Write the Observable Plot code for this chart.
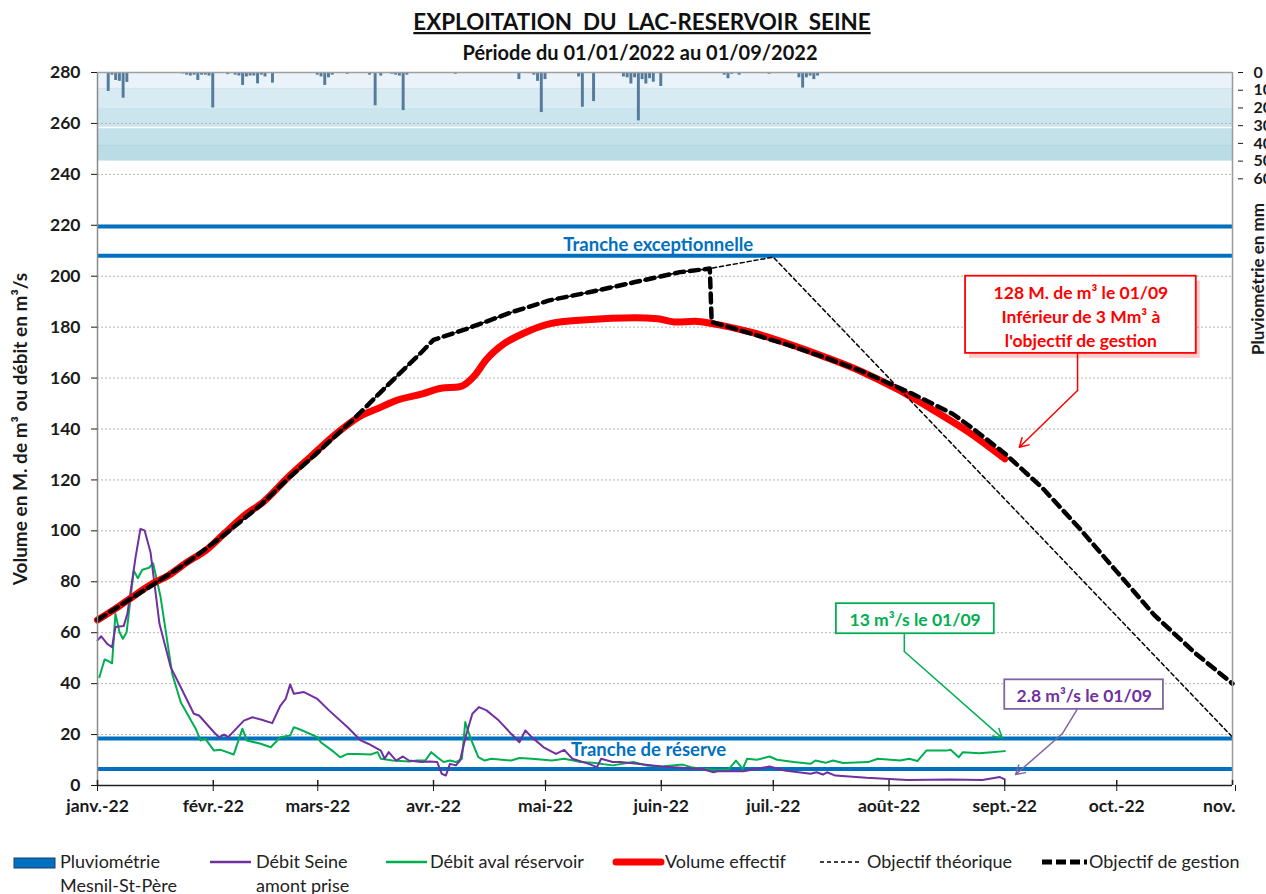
<!DOCTYPE html>
<html><head><meta charset="utf-8">
<script src="https://cdn.jsdelivr.net/npm/d3@7"></script>
<script src="https://cdn.jsdelivr.net/npm/@observablehq/plot@0.6"></script>
<style>
body{margin:0;background:#fff;font-family:Lato,sans-serif}
#wrap{position:relative;width:1266px;height:894px;overflow:hidden}
</style></head><body><div id="wrap"></div>
<script>
// ---------- DATA (day = days since 1 Jan 2022) ----------
const monthDays = [0,31,59,90,120,151,181,212,243,273];
const monthLabels = ["janv.-22","févr.-22","mars-22","avr.-22","mai-22","juin-22","juil.-22","août-22","sept.-22","oct.-22"];
const lastMonthDay = 304; const lastMonthLabel = "nov.";
const yTicks = [0,20,40,60,80,100,120,140,160,180,200,220,240,260,280];
const gridTicks = [20,40,60,80,100,120,140,160,180,200,220,240,260];
const rainTicks = [0,10,20,30,40,50,60];
const trancheLevels = [219.5, 208, 18.5, 6.5];
const rainBandEdges = [0,9,20,31,41,50];

const volumeEffectif = [[0,65],[4,68.7],[8,72.7],[15,79.5],[19,82.5],[24,87.7],[29,92.3],[34,99],[40,106.8],[44,110.8],[51,121],[57,129],[63,137],[65,139.4],[70,144.7],[75,148],[80,151.2],[87,153.8],[92,156],[97,156.6],[101,161],[104,167],[109,173.6],[114,177.5],[121,181.3],[131,182.9],[144,183.7],[150,183.3],[155,182],[160,182.3],[165,181.3],[175,178],[185,173.5],[195,168.2],[205,162.3],[214,155.8],[224,147.3],[234,138.1],[243,128.3]];

const objectifGestion = [[0,65],[8,72.5],[15,79],[24,87.5],[34,98.5],[44,110.5],[51,120.5],[58,129.5],[65,139],[68,143],[80,160.5],[86,169],[90,175],[99,179.4],[111,185.9],[121,190.5],[132,193.8],[144,197.7],[156,201.6],[164,203],[164.5,182],[175,177.5],[185,173],[195,168],[205,162.5],[218,154],[229,146],[234,140.7],[243,130.4],[253,117],[263,101],[273,84],[283,67],[294,52],[304,40]];

const objectifTheorique = [[0,65],[8,72.5],[15,79],[24,87.5],[34,98.5],[44,110.5],[51,120.5],[58,129.5],[65,139],[68,143],[80,160.5],[86,169],[90,175],[99,179.4],[111,185.9],[121,190.5],[132,193.8],[144,197.7],[156,201.6],[164,203],[181,207.5],[304,19]];

const debitSeineAmont = [[0,57],[1,58.6],[2.6,55.6],[3.9,54.3],[4.8,62.2],[7,62.6],[8,67.4],[10.2,89.7],[11.5,100.8],[12.6,100.2],[14.2,91.6],[16.6,63.5],[19.6,46.5],[22.3,38.6],[25.8,28.2],[27.2,27.5],[31.2,20.9],[32.5,19],[33.9,20],[35,19],[39.2,25.5],[41.5,26.8],[44,25.8],[46.8,24.5],[49,31.4],[50.4,34],[51.6,39.7],[52.6,36],[55.3,36.7],[58.9,34],[62,29.5],[67,22.9],[70.5,17.7],[72.5,16.4],[75.9,13.7],[76.9,10.5],[78,13.1],[80,9.8],[81.8,11.4],[83.4,9.8],[86.7,9.2],[88.9,9.4],[91,9.2],[92.2,4.6],[93.3,3.9],[94.4,8.5],[96,7.9],[97.1,9.8],[98.7,19.6],[100.4,28.2],[102.2,30.8],[104.2,29.5],[107.5,25.5],[110.8,20.3],[113,17],[114.6,21.6],[116.3,19],[119.5,15],[122.8,12.4],[125,14],[127.2,10.5],[131.6,8.5],[133.8,7.2],[134.9,10.5],[138,9.2],[140,9.2],[144.6,8.5],[151,7.5],[162,6.5],[165,5.2],[166,5.6],[173,5.6],[179,7.2],[180,7.5],[184,5.9],[191,4.6],[192.6,5.2],[194.3,4.3],[195.4,5.2],[197.6,3.9],[206,3],[217,2.2],[228.5,2.4],[237,2.2],[241.7,3.3],[243,2.4]];

const debitAvalReservoir = [[0.5,42.5],[1.9,49.5],[2.7,49],[3.9,48],[4.8,67.4],[5.9,60.2],[6.8,57.6],[7.8,60.2],[9.7,84.4],[10.8,81.4],[12,84.7],[13.8,85.5],[14.9,87.3],[16.9,74],[20,43.9],[22.3,32.7],[26.3,22.3],[27.6,17.7],[28.9,18.3],[31.2,13.7],[33,14],[36.5,12.2],[38.8,22.3],[40,17.7],[43.7,16.4],[46.4,15],[49,19],[51.6,19.6],[52.6,22.9],[54.4,21.9],[58.9,19],[59.8,17],[63.4,13.1],[65,11.1],[67,12.4],[69.6,12.4],[73.2,12.2],[75,13.1],[75.9,10.5],[79,9.8],[83.4,9.4],[85.6,9.8],[87.8,9.8],[89.4,13.1],[91,11.1],[92.7,9.2],[94.4,9.8],[96,9.2],[97.6,10.5],[98.5,24.9],[99.8,19],[102,11.1],[103.7,9.8],[105.5,10.5],[110.8,9.8],[113,10.8],[116.3,10.5],[121.7,9.8],[125,10.5],[129.4,9.2],[132.7,8.9],[138,7.9],[143.5,9.2],[147,7.9],[151,7.5],[156.7,8.2],[159,7.2],[162,6.5],[166,6.2],[169,6.2],[171,9.8],[172.8,6.5],[174,10.5],[176.6,10.1],[180,11.4],[182,10.1],[186.5,9.2],[191,8.5],[192.3,9.8],[195,8.9],[197,9.8],[199.7,8.8],[206.4,9.2],[209,10.5],[215,9.8],[217.4,10.5],[219.6,9.6],[222,13.7],[227.4,13.7],[228.5,14],[230.7,11.1],[231.8,13.1],[236.2,12.7],[239.5,13.1],[243,13.5]];

const pluviometrie = [[0,0.5],[3,10.7],[4,1.5],[5,4.5],[6,5],[7,14.5],[8,5.6],[23,0.8],[24,1.5],[25,2],[26,1.5],[27,4.5],[28,1.5],[29,1.5],[30,2],[31,20],[35,1.2],[37,1.5],[38,2],[39,7.3],[40,2.5],[41,2],[42,2],[43,6.4],[44,1.5],[45,2.5],[47,6],[59,1.5],[60,2.5],[61,7.3],[62,3],[63,1.5],[67,1],[73,1.5],[74.5,18.8],[76,2],[79,1],[80,1.5],[81,2],[82,21.5],[83,1.5],[96,1],[113,4],[117,1.5],[118,5],[119,22.6],[120,4],[129,2.5],[130,19.6],[133,16.4],[141,2.5],[142,3],[143,6.5],[144,3],[145,27.3],[146,4],[147,6.5],[148,3.5],[149,5.5],[151,7.9],[168,1.5],[169,3.5],[170,1],[172,1.5],[180,1],[188,3],[189,8.8],[190,3],[191,2],[192,4],[193,2]];

// ---------- helpers ----------
const D = n => new Date(Date.UTC(2022,0,1) + n*864e5);
const K = 0.696;                       // left-axis units per mm of rain
const rainY = mm => 280 - mm*K;
const pts = arr => arr.map(([d,v]) => ({date: D(d), v}));
const bandColors = ["#eaf3f9","#d9ebf2","#cae5ed","#c2e1e9","#badde5"];
const bands = bandColors.map((c,i) => ({a: rainBandEdges[i], b: rainBandEdges[i+1], c}));
const labelByTime = new Map(monthDays.map((d,i) => [+D(d), monthLabels[i]]));

const RED="#ff0000", GREEN="#00b050", PURPLE="#7030a0", BLUE="#0070c0";
const annots = [
  {d1:232.5,d2:294.3,v1:169.7,v2:200,tx:263.4,ty:184.6,color:RED,tcolor:RED,shadow:true,
   text:"128 M. de m³ le 01/09\nInférieur de 3 Mm³ à\nl'objectif de gestion",
   seg:[[262.5,169.7],[262.5,155.1]], tip:[246.9,132.8]},
  {d1:197.9,d2:240.2,v1:59.6,v2:71.4,tx:219,ty:65.6,color:GREEN,tcolor:GREEN,
   text:"13 m³/s le 01/09", seg:[[216.1,59.7],[216.1,52.6]], tip:[242.3,18.7]},
  {d1:243,d2:285.5,v1:29.9,v2:41.5,tx:264.3,ty:35.7,color:"#8064a2",tcolor:PURPLE,
   text:"2.8 m³/s le 01/09", seg:[[262.4,29.9],[258.4,20.3]], tip:[245.9,4.3]}
];
const FS = 17.5;

const plot = Plot.plot({
  width:1266, height:894,
  marginLeft:97, marginRight:34, marginTop:72, marginBottom:109,
  style:{fontFamily:"Lato, sans-serif", fontSize:"16px", background:"white", color:"#1a1a1a"},
  x:{type:"utc", domain:[D(0), D(304)], axis:null},
  y:{domain:[0,280], axis:null},
  color:{type:"identity"},
  marks:[
    Plot.rect(bands, {x1:()=>D(0), x2:()=>D(304), y1:d=>rainY(d.a), y2:d=>rainY(d.b), fill:d=>d.c}),
    Plot.ruleY([rainY(31)], {stroke:"white", strokeWidth:1.5}),
    Plot.ruleY([rainY(41)], {stroke:"#acd4df", strokeWidth:1}),
    Plot.ruleY([rainY(9)], {stroke:"#cfe4ed", strokeWidth:1}),
    Plot.gridY(gridTicks, {stroke:"#b5b5b5", strokeOpacity:1, strokeDasharray:"2,2"}),
    Plot.rect(pluviometrie, {x1:d=>D(d[0]-0.5), x2:d=>D(d[0]+0.5), y1:()=>280, y2:d=>rainY(d[1]), fill:"#557b9c", insetLeft:0.4, insetRight:0.4}),
    Plot.ruleY(trancheLevels, {stroke:BLUE, strokeWidth:4}),
    Plot.text(["Tranche exceptionnelle"], {x:()=>D(150.2), y:()=>212.3, fill:BLUE, fontWeight:"bold", fontSize:18.5}),
    Plot.text(["Tranche de réserve"], {x:()=>D(147.6), y:()=>13.8, fill:BLUE, fontWeight:"bold", fontSize:18.5}),
    Plot.line(pts(debitAvalReservoir), {x:"date", y:"v", stroke:GREEN, strokeWidth:2}),
    Plot.line(pts(debitSeineAmont), {x:"date", y:"v", stroke:PURPLE, strokeWidth:2}),
    Plot.line(pts(volumeEffectif), {x:"date", y:"v", stroke:RED, strokeWidth:7, strokeLinecap:"round", curve:"monotone-x"}),
    Plot.line(pts(objectifTheorique), {x:"date", y:"v", stroke:"#000", strokeWidth:1.5, strokeDasharray:"4,3"}),
    Plot.line(pts(objectifGestion), {x:"date", y:"v", stroke:"#000", strokeWidth:4.5, strokeDasharray:"9,6"}),
    Plot.ruleX([D(0)], {stroke:"#8a8a8a", strokeWidth:1.5}),
    Plot.ruleX([D(304)], {stroke:"#9a9a9a", strokeWidth:1.5}),
    Plot.ruleY([280], {stroke:"#a0a0a0", strokeWidth:1.5}),
    Plot.ruleY([0], {stroke:"#222", strokeWidth:1.5}),
    Plot.ruleX(monthDays.concat([lastMonthDay]).map(D), {y1:0, y2:2, stroke:"#222", strokeWidth:1.5}),
    Plot.axisY(yTicks, {anchor:"left", tickSize:6, tickPadding:11, fontWeight:"bold", fontSize:FS, label:null, color:"#1a1a1a"}),
    Plot.axisY(rainTicks.map(rainY), {anchor:"right", tickSize:5, tickPadding:11, dx:5, fontWeight:"bold", fontSize:16, label:null, color:"#1a1a1a", tickFormat:v=>String(Math.round((280-v)/K))}),
    Plot.axisX(monthDays.map(D), {anchor:"bottom", tickSize:6, tickPadding:8, fontWeight:"bold", fontSize:FS, label:null, color:"#1a1a1a", tickFormat:d=>labelByTime.get(+d)}),
    Plot.axisX([D(lastMonthDay)], {anchor:"bottom", tickSize:6, tickPadding:8, fontWeight:"bold", fontSize:FS, label:null, color:"#1a1a1a", tickFormat:()=>lastMonthLabel, textAnchor:"end", dx:3}),
    Plot.text(["Volume en M. de m³ ou débit en m³/s"], {frameAnchor:"left", textAnchor:"middle", dx:-77, rotate:-90, fontWeight:"bold", fontSize:19}),
    Plot.text(["Pluviométrie en mm"], {frameAnchor:"right", textAnchor:"middle", dx:26, dy:-150, rotate:-90, fontWeight:"bold", fontSize:17}),
    Plot.rect(annots.filter(a=>a.shadow), {x1:a=>D(a.d1), x2:a=>D(a.d2), y1:a=>a.v1, y2:a=>a.v2, fill:"rgba(255,0,0,0.2)", dx:4, dy:5}),
    Plot.rect(annots, {x1:a=>D(a.d1), x2:a=>D(a.d2), y1:a=>a.v1, y2:a=>a.v2, fill:"white", stroke:a=>a.color, strokeWidth:1.8}),
    Plot.text(annots, {x:a=>D(a.tx), y:a=>a.ty, text:a=>a.text, fill:a=>a.tcolor, fontWeight:"bold", fontSize:17.5, lineHeight:1.36}),
    ...annots.map(a => Plot.line(a.seg, {x:p=>D(p[0]), y:p=>p[1], stroke:a.color, strokeWidth:1.5})),
    Plot.arrow(annots, {x1:a=>D(a.seg[1][0]), y1:a=>a.seg[1][1], x2:a=>D(a.tip[0]), y2:a=>a.tip[1], stroke:a=>a.color, strokeWidth:1.5, headLength:10, bend:0})
  ]
});
document.getElementById("wrap").appendChild(plot);

// ---------- title & legend ----------
const svg = d3.select(plot);
svg.append("text").attr("x",642).attr("y",30).attr("text-anchor","middle")
  .style("white-space","pre").style("text-decoration","underline")
  .attr("font-family","Lato, sans-serif").attr("font-weight","bold").attr("font-size",22.4).attr("fill","#111")
  .text("EXPLOITATION  DU  LAC-RESERVOIR  SEINE");
svg.append("text").attr("x",640).attr("y",60).attr("text-anchor","middle")
  .attr("font-family","Lato, sans-serif").attr("font-weight","bold").attr("font-size",20).attr("fill","#111")
  .text("Période du 01/01/2022 au 01/09/2022");

const legendItems = [
  {label:["Pluviométrie","Mesnil-St-Père"], rect:true, x0:14, x1:55, tx:60},
  {label:["Débit Seine","amont prise"], color:PURPLE, w:2.5, x0:210, x1:251, tx:256},
  {label:["Débit aval réservoir"], color:GREEN, w:2.5, x0:386, x1:427, tx:430},
  {label:["Volume effectif"], color:RED, w:7, x0:616, x1:661, tx:665, cap:"round"},
  {label:["Objectif théorique"], color:"#000", w:1.5, dash:"4,3", x0:820, x1:861, tx:867},
  {label:["Objectif de gestion"], color:"#000", w:5, dash:"10,4", x0:1042, x1:1087, tx:1089}
];
const lg = svg.append("g").attr("font-family","Lato, sans-serif").attr("font-size",18)
  .attr("fill","#222").attr("text-anchor","start");
legendItems.forEach(it => {
  if (it.rect) {
    lg.append("rect").attr("x",it.x0).attr("y",858).attr("width",it.x1-it.x0).attr("height",10)
      .attr("fill",BLUE).attr("stroke","#1f3d66").attr("stroke-width",1);
  } else {
    lg.append("line").attr("x1",it.x0).attr("x2",it.x1).attr("y1",862).attr("y2",862)
      .attr("stroke",it.color).attr("stroke-width",it.w).attr("stroke-dasharray",it.dash||null)
      .attr("stroke-linecap",it.cap||"butt");
  }
  it.label.forEach((t,i) => lg.append("text").attr("x",it.tx).attr("y",868+i*24).attr("text-anchor","start").text(t));
});
</script></body></html>
